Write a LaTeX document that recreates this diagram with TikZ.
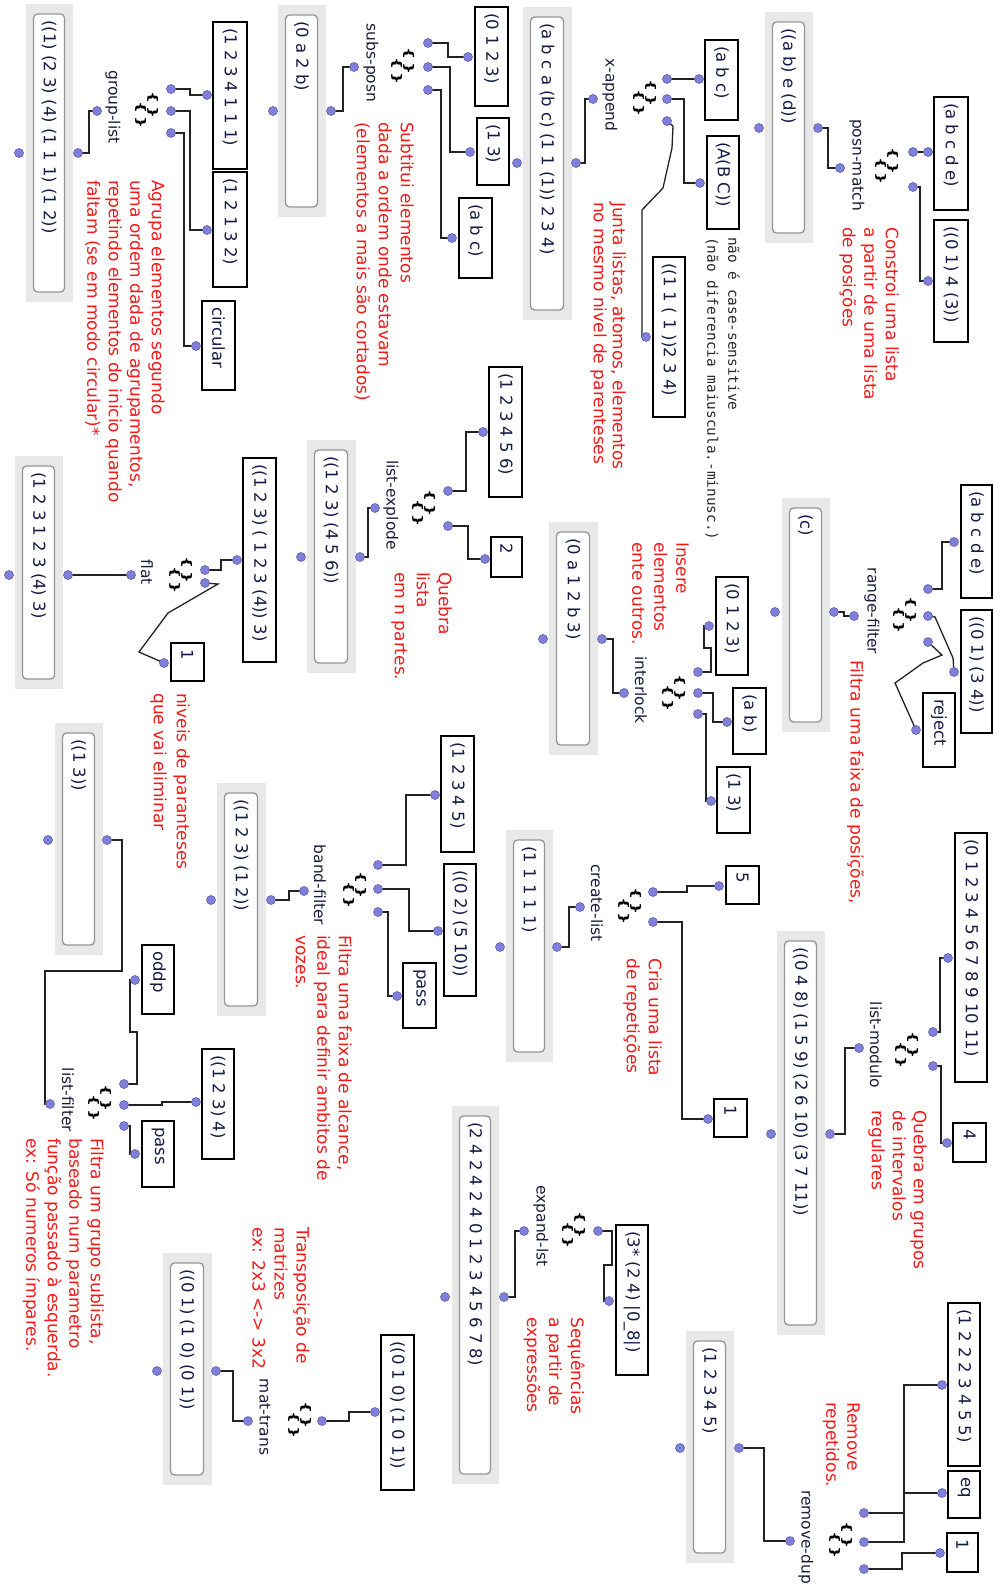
\documentclass[tikz,border=0pt]{standalone}
\usepackage{fontspec}
\usepackage{graphicx}
\setmainfont{DejaVu Sans}
\newfontfamily\monof{DejaVu Sans Mono}
\definecolor{dotc}{RGB}{128,128,218}
\definecolor{dotd}{RGB}{95,95,175}
\definecolor{resgray}{RGB}{232,232,232}
\definecolor{resborder}{RGB}{150,150,150}
\definecolor{btc}{RGB}{20,28,70}
\definecolor{lblc}{RGB}{25,30,60}
\definecolor{redc}{RGB}{245,25,25}
\definecolor{wirec}{RGB}{35,35,35}
\definecolor{monoc}{RGB}{40,40,40}
\tikzset{
  inb/.style={draw=black, line width=1.4pt, fill=white, inner sep=0pt, rectangle},
  resout/.style={fill=resgray, draw=none, inner sep=0pt, rectangle},
  resin/.style={draw=resborder, line width=1.3pt, fill=white, rounded corners=4pt, inner sep=0pt, rectangle},
  btxt/.style={rotate=-90, anchor=west, inner sep=0pt, text=btc, font=\fontsize{16.5}{19}\selectfont},
  lbl/.style={rotate=-90, inner sep=0pt, text=lblc, font=\fontsize{15.5}{18}\selectfont},
  note/.style={rotate=-90, anchor=north west, inner sep=0pt, align=left, text=redc, font=\fontsize{17}{21.5}\selectfont},
  monotxt/.style={rotate=-90, anchor=north west, inner sep=0pt, align=left, text=monoc, font=\monof\fontsize{14.4}{21}\selectfont},
  dot/.style={circle, fill=dotc, draw=dotd, line width=0.6pt, inner sep=0pt, minimum size=9pt},
  wire/.style={draw=wirec, line width=1.3pt},
  icn/.style={rotate=-90, inner sep=0pt, font=\bfseries\fontsize{17}{17}\selectfont},
}
\newcommand\inbox[6]{%
  \node[inb, minimum width={#4-#2}, minimum height={#5-#3}] (#1) at ({(#2+#4)/2},{(#3+#5)/2}) {};
  \node[btxt] (#1t) at ({(#2+#4)/2},{#3+6}) {#6};}
\newcommand\resbox[6]{%
  \node[resout, minimum width={#4-#2}, minimum height={#5-#3}] (#1) at ({(#2+#4)/2},{(#3+#5)/2}) {};
  \node[resin, minimum width={#4-#2-16}, minimum height={#5-#3-20}] (#1in) at ({(#2+#4)/2-0.5},{(#3+#5)/2}) {};
  \node[btxt] (#1t) at ({(#2+#4)/2-0.5},{#3+16}) {#6};}
\newcommand\fnicon[3]{%
  \node[icn] (#1) at ({#2+6},{#3-5}) {\scalebox{1}[0.7]{\{\,\}}};
  \node[icn] (#1b) at ({#2-6},{#3+5}) {\scalebox{1}[0.7]{\{\,\}}};}
\newcommand\dc[3]{\coordinate (#1) at (#2,#3);}
\begin{document}
\begin{tikzpicture}[x=1pt,y=-1pt]
\fill[white] (0,0) rectangle (993,1592);
\useasboundingbox (0,0) rectangle (993,1592);

% ---------- 1 posn-match
\inbox{i1a}{934}{97}{968}{210}{(a b c d e)}
\inbox{i1b}{934}{220}{968}{342}{((0 1) 4 (3))}
\fnicon{fn1}{887}{166}
\node[lbl] (lb1) at (857,165) {posn-match};
\resbox{rs1}{765}{12}{813}{243}{((a b) e (d))}
\node[note] (nt1) at (899,227) {Constroi uma lista\\a partir de uma lista\\de posições};
\dc{i1ao}{928}{152}\dc{i1bo}{928}{281}\dc{fn1i1}{913}{152}\dc{fn1i2}{913}{187}\dc{fn1o}{840}{168}\dc{rs1i}{818}{128}\dc{rs1o}{759}{128}
\draw[wire] (fn1i1) -- (i1ao);
\draw[wire] (fn1i2) -- ++(7,0) |- (i1bo);
\draw[wire] (fn1o) -- ++(-12,0) |- (rs1i);

% ---------- 2 x-append
\inbox{i2a}{705}{40}{738}{120}{(a b c)}
\inbox{i2b}{707}{136}{739}{229}{(A(B C))}
\inbox{i2c}{653}{257}{685}{417}{((1 1 ( 1 ))2 3 4)}
\fnicon{fn2}{645}{98}
\node[lbl] (lb2) at (610,95) {x-append};
\resbox{rs2}{523}{7}{572}{320}{(a b c a (b c) (1 1 (1)) 2 3 4)}
\node[note, font=\fontsize{17}{19}\selectfont] (nt2) at (626,202) {Junta listas, atomos, elementos\\no mesmo nivel de parenteses};
\node[monotxt] (nt2b) at (740,237) {não é case-sensitive\\(não diferencia maiuscula.-minusc.)};
\dc{i2ao}{699}{79}\dc{i2bo}{700}{183}\dc{i2co}{646}{337}\dc{fn2i1}{667}{79}\dc{fn2i2}{667}{99}\dc{fn2i3}{667}{121}\dc{fn2o}{593}{99}\dc{rs2i}{576}{163}\dc{rs2o}{517}{163}
\draw[wire] (fn2i1) -- (i2ao);
\draw[wire] (fn2i2) -- ++(17,0) |- (i2bo);
\draw[wire] (fn2i3) -- (673,126) -- (672,148) -- (663,188) -- (642,210) -- (642,337) -- (i2co);
\draw[wire] (fn2o) -- ++(-8,0) |- (rs2i);

% ---------- 3 subs-posn
\inbox{i3a}{475}{7}{508}{106}{(0 1 2 3)}
\inbox{i3b}{477}{118}{509}{185}{(1 3)}
\inbox{i3c}{459}{198}{492}{278}{(a b c)}
\fnicon{fn3}{403}{66}
\node[lbl] (lb3) at (371,63) {subs-posn};
\resbox{rs3}{278}{5}{326}{217}{(0 a 2 b)}
\node[note, font=\fontsize{17}{22}\selectfont] (nt3) at (414,122) {Subtitui elementos\\dada a ordem onde estavam\\(elementos a mais são cortados)};
\dc{i3ao}{468}{57}\dc{i3bo}{470}{152}\dc{i3co}{452}{238}\dc{fn3i1}{428}{43}\dc{fn3i2}{428}{67}\dc{fn3i3}{428}{90}\dc{fn3o}{354}{67}\dc{rs3i}{331}{111}\dc{rs3o}{273}{111}
\draw[wire] (fn3i1) -- ++(20,0) |- (i3ao);
\draw[wire] (fn3i2) -- ++(22,0) |- (i3bo);
\draw[wire] (fn3i3) -- ++(13,0) |- (i3co);
\draw[wire] (fn3o) -- ++(-11,0) |- (rs3i);

% ---------- 4 group-list
\inbox{i4a}{213}{22}{247}{169}{(1 2 3 4 1 1 1)}
\inbox{i4b}{213}{172}{247}{287}{(1 2 1 3 2)}
\inbox{i4c}{202}{301}{235}{390}{circular}
\fnicon{fn4}{147}{110}
\node[lbl] (lb4) at (113,107) {group-list};
\resbox{rs4}{26}{4}{73}{302}{((1) (2 3) (4) (1 1 1) (1 2))}
\node[note] (nt4) at (165,180) {Agrupa elementos segundo\\uma ordem dada de agrupamentos,\\repetindo elementos do inicio quando\\faltam (se em modo circular)*};
\dc{i4ao}{207}{95}\dc{i4bo}{207}{230}\dc{i4co}{196}{346}\dc{fn4i1}{171}{89}\dc{fn4i2}{171}{111}\dc{fn4i3}{171}{133}\dc{fn4o}{97}{111}\dc{rs4i}{78}{153}\dc{rs4o}{19}{153}
\draw[wire] (fn4i1) -- ++(19,0) |- (i4ao);
\draw[wire] (fn4i2) -- ++(19,0) |- (i4bo);
\draw[wire] (fn4i3) -- ++(13,0) |- (i4co);
\draw[wire] (fn4o) -- ++(-8,0) |- (rs4i);

% ---------- 5 list-explode
\inbox{i5a}{489}{367}{522}{497}{(1 2 3 4 5 6)}
\inbox{i5b}{491}{537}{522}{577}{2}
\fnicon{fn5}{424}{508}
\node[lbl] (lb5) at (391,505) {list-explode};
\resbox{rs5}{307}{440}{356}{673}{((1 2 3) (4 5 6))}
\node[note, font=\fontsize{17}{22}\selectfont] (nt5) at (452,572) {Quebra\\lista\\em n partes.};
\dc{i5ao}{483}{432}\dc{i5bo}{485}{559}\dc{fn5i1}{448}{491}\dc{fn5i2}{448}{526}\dc{fn5o}{375}{508}\dc{rs5i}{360}{557}\dc{rs5o}{301}{557}
\draw[wire] (fn5i1) -- ++(18,0) |- (i5ao);
\draw[wire] (fn5i2) -- ++(20,0) |- (i5bo);
\draw[wire] (fn5o) -- ++(-7,0) |- (rs5i);

% ---------- 6 flat
\inbox{i6a}{243}{458}{276}{662}{((1 2 3) ( 1 2 3 (4)) 3)}
\inbox{i6b}{171}{643}{204}{681}{1}
\fnicon{fn6}{181}{575}
\node[lbl] (lb6) at (147,572) {flat};
\resbox{rs6}{15}{456}{63}{689}{(1 2 3 1 2 3 (4) 3)}
\node[note, font=\fontsize{17}{23}\selectfont] (nt6) at (190,693) {niveis de paranteses\\que vai eliminar};
\dc{i6ao}{237}{560}\dc{i6bo}{164}{663}\dc{fn6i1}{205}{570}\dc{fn6i2}{205}{583}\dc{fn6o}{131}{575}\dc{rs6i}{68}{575}\dc{rs6o}{9}{575}
\draw[wire] (fn6i1) -- ++(16,0) |- (i6ao);
\draw[wire] (fn6i2) -- (218,584) -- (168,613) -- (139,652) -- (i6bo);
\draw[wire] (fn6o) -- (rs6i);

% ---------- 7 range-filter
\inbox{i7a}{961}{485}{992}{598}{(a b c d e)}
\inbox{i7b}{961}{610}{992}{733}{((0 1) (3 4))}
\inbox{i7c}{923}{693}{955}{767}{reject}
\fnicon{fn7}{905}{615}
\node[lbl] (lb7) at (872,611) {range-filter};
\resbox{rs7}{782}{498}{830}{732}{(c)}
\node[note] (nt7) at (864,660) {Filtra uma faixa de posições,};
\dc{i7ao}{954}{542}\dc{i7bo}{954}{672}\dc{i7co}{916}{730}\dc{fn7i1}{928}{589}\dc{fn7i2}{928}{616}\dc{fn7i3}{928}{642}\dc{fn7o}{854}{616}\dc{rs7i}{834}{612}\dc{rs7o}{775}{612}
\draw[wire] (fn7i1) -- ++(14,0) |- (i7ao);
\draw[wire] (fn7i2) -- (935,617) -- (953,658) -- (i7bo);
\draw[wire] (fn7i3) -- (942,655) -- (923,663) -- (895,683) -- (i7co);
\draw[wire] (fn7o) -- ++(-10,0) |- (rs7i);

% ---------- 8 interlock
\inbox{i8a}{716}{577}{748}{675}{(0 1 2 3)}
\inbox{i8b}{733}{688}{766}{754}{(a b)}
\inbox{i8c}{717}{767}{750}{833}{(1 3)}
\fnicon{fn8}{674}{693}
\node[lbl] (lb8) at (641,690) {interlock};
\resbox{rs8}{549}{522}{598}{755}{(0 a 1 2 b 3)}
\node[note, font=\fontsize{17}{22}\selectfont] (nt8) at (689,542) {Insere\\elementos\\ente outros.};
\dc{i8ao}{709}{626}\dc{i8bo}{727}{722}\dc{i8co}{711}{801}\dc{fn8i1}{698}{672}\dc{fn8i2}{698}{693}\dc{fn8i3}{698}{714}\dc{fn8o}{624}{693}\dc{rs8i}{602}{639}\dc{rs8o}{543}{639}
\draw[wire] (fn8i1) -- (711,672) -- (711,648) -- (704,648) -- (704,626) -- (i8ao);
\draw[wire] (fn8i2) -- ++(15,0) |- (i8bo);
\draw[wire] (fn8i3) -- ++(8,0) |- (i8co);
\draw[wire] (fn8o) -- ++(-11,0) |- (rs8i);

% ---------- 9 band-filter
\inbox{i9a}{441}{736}{474}{852}{(1 2 3 4 5)}
\inbox{i9b}{444}{864}{476}{996}{((0 2) (5 10))}
\inbox{i9c}{403}{963}{436}{1028}{pass}
\fnicon{fn9}{355}{890}
\node[lbl] (lb9) at (320,885) {band-filter};
\resbox{rs9}{217}{783}{266}{1016}{((1 2 3) (1 2))}
\node[note] (nt9) at (352,935) {Filtra uma faixa de alcance,\\ideal para definir ambitos de\\vozes.};
\dc{i9ao}{435}{795}\dc{i9bo}{438}{931}\dc{i9co}{397}{996}\dc{fn9i1}{378}{865}\dc{fn9i2}{378}{889}\dc{fn9i3}{378}{912}\dc{fn9o}{304}{891}\dc{rs9i}{271}{900}\dc{rs9o}{211}{900}
\draw[wire] (fn9i1) -- ++(28,0) |- (i9ao);
\draw[wire] (fn9i2) -- ++(31,0) |- (i9bo);
\draw[wire] (fn9i3) -- ++(10,0) |- (i9co);
\draw[wire] (fn9o) -- ++(-15,0) |- (rs9i);

% ---------- 10 create-list
\inbox{i10a}{726}{866}{759}{904}{5}
\inbox{i10b}{714}{1099}{747}{1137}{1}
\fnicon{fn10}{630}{906}
\node[lbl] (lb10) at (597,903) {create-list};
\resbox{rs10}{506}{830}{553}{1062}{(1 1 1 1 1)}
\node[note, font=\fontsize{17}{22}\selectfont] (nt10) at (662,958) {Cria uma lista\\de repetições};
\dc{i10ao}{719}{886}\dc{i10bo}{708}{1119}\dc{fn10i1}{653}{892}\dc{fn10i2}{653}{922}\dc{fn10o}{580}{907}\dc{rs10i}{557}{947}\dc{rs10o}{500}{947}
\draw[wire] (fn10i1) -- ++(34,0) |- (i10ao);
\draw[wire] (fn10i2) -- ++(29,0) |- (i10bo);
\draw[wire] (fn10o) -- ++(-11,0) |- (rs10i);

% ---------- 11 list-modulo
\inbox{i11a}{955}{833}{987}{1082}{(0 1 2 3 4 5 6 7 8 9 10 11)}
\inbox{i11b}{953}{1123}{986}{1162}{4}
\fnicon{fn11}{907}{1050}
\node[lbl] (lb11) at (876,1045) {list-modulo};
\resbox{rs11}{777}{931}{825}{1335}{((0 4 8) (1 5 9) (2 6 10) (3 7 11))}
\node[note, font=\fontsize{17}{21}\selectfont] (nt11) at (927,1110) {Quebra em grupos\\de intervalos\\regulares};
\dc{i11ao}{948}{958}\dc{i11bo}{947}{1143}\dc{fn11i1}{933}{1032}\dc{fn11i2}{933}{1066}\dc{fn11o}{859}{1048}\dc{rs11i}{830}{1134}\dc{rs11o}{771}{1134}
\draw[wire] (fn11i1) -- ++(7,0) |- (i11ao);
\draw[wire] (fn11i2) -- ++(8,0) |- (i11bo);
\draw[wire] (fn11o) -- ++(-14,0) |- (rs11i);

% ---------- 12 list-filter
\inbox{i12a}{142}{945}{174}{1014}{oddp}
\inbox{i12b}{202}{1049}{234}{1159}{((1 2 3) 4)}
\inbox{i12c}{142}{1121}{174}{1187}{pass}
\fnicon{fn12}{100}{1103}
\node[lbl] (lb12) at (68,1100) {list-filter};
\resbox{rs12}{55}{723}{103}{955}{((1 3))}
\node[note] (nt12) at (104,1138) {Filtra um grupo sublista,\\baseado num parametro\\função passado à esquerda.\\ex: Só numeros ímpares.};
\dc{i12ao}{135}{980}\dc{i12bo}{196}{1102}\dc{i12co}{135}{1154}\dc{fn12i1}{124}{1084}\dc{fn12i2}{124}{1105}\dc{fn12i3}{124}{1126}\dc{fn12o}{50}{1104}\dc{rs12i}{107}{840}\dc{rs12o}{48}{840}
\draw[wire] (fn12i1) -- (137,1084) -- (137,1032) -- (130,1032) -- (130,980) -- (i12ao);
\draw[wire] (fn12i2) -- ++(38,0) |- (i12bo);
\draw[wire] (fn12i3) -- ++(6,0) |- (i12co);
\draw[wire] (fn12o) -- (45,1104) -- (45,971) -- (122,971) -- (122,840) -- (rs12i);

% ---------- 13 expand-lst
\inbox{i13a}{616}{1225}{648}{1375}{(3* (2 4) |0\_8|)}
\fnicon{fn13}{574}{1230}
\node[lbl] (lb13) at (541,1226) {expand-lst};
\resbox{rs13}{452}{1106}{499}{1484}{(2 4 2 4 2 4 0 1 2 3 4 5 6 7 8)}
\node[note, font=\fontsize{17}{22}\selectfont] (nt13) at (585,1317) {Sequências\\a partir de\\expressões};
\dc{i13ao}{609}{1301}\dc{fn13i1}{598}{1231}\dc{fn13o}{524}{1231}\dc{rs13i}{504}{1297}\dc{rs13o}{445}{1297}
\draw[wire] (fn13i1) -- (612,1231) -- (612,1265) -- (604,1265) -- (604,1301) -- (i13ao);
\draw[wire] (fn13o) -- ++(-9,0) |- (rs13i);

% ---------- 14 remove-dup
\inbox{i14a}{948}{1303}{980}{1466}{(1 2 2 2 3 4 5 5)}
\inbox{i14b}{948}{1471}{980}{1518}{eq}
\inbox{i14c}{947}{1533}{978}{1572}{1}
\fnicon{fn14}{841}{1540}
\node[lbl] (lb14) at (806,1537) {remove-dup};
\resbox{rs14}{686}{1331}{734}{1563}{(1 2 3 4 5)}
\node[note, font=\fontsize{17}{21}\selectfont] (nt14) at (860,1402) {Remove\\repetidos.};
\dc{i14ao}{942}{1385}\dc{i14bo}{942}{1493}\dc{i14co}{940}{1553}\dc{fn14i1}{864}{1513}\dc{fn14i2}{864}{1542}\dc{fn14i3}{864}{1569}\dc{fn14o}{790}{1541}\dc{rs14i}{739}{1448}\dc{rs14o}{680}{1448}
\draw[wire] (fn14i1) -- ++(40,0) |- (i14ao);
\draw[wire] (fn14i2) -- ++(40,0) |- (i14bo);
\draw[wire] (fn14i3) -- ++(38,0) |- (i14co);
\draw[wire] (fn14o) -- ++(-26,0) |- (rs14i);

% ---------- 15 mat-trans
\inbox{i15a}{381}{1335}{414}{1490}{((0 1 0) (1 0 1))}
\fnicon{fn15}{300}{1420}
\node[lbl] (lb15) at (265,1417) {mat-trans};
\resbox{rs15}{163}{1253}{212}{1485}{((0 1) (1 0) (0 1))}
\node[note, font=\fontsize{17}{22}\selectfont] (nt15) at (310,1227) {Transposição de\\matrizes\\ex: 2x3 <-> 3x2};
\dc{i15ao}{375}{1412}\dc{fn15i1}{322}{1421}\dc{fn15o}{248}{1421}\dc{rs15i}{216}{1371}\dc{rs15o}{157}{1371}
\draw[wire] (fn15i1) -- ++(27,0) |- (i15ao);
\draw[wire] (fn15o) -- ++(-15,0) |- (rs15i);

% ---------- dots on top
\foreach \n in {i1ao,i1bo,fn1i1,fn1i2,fn1o,rs1i,rs1o,
  i2ao,i2bo,i2co,fn2i1,fn2i2,fn2i3,fn2o,rs2i,rs2o,
  i3ao,i3bo,i3co,fn3i1,fn3i2,fn3i3,fn3o,rs3i,rs3o,
  i4ao,i4bo,i4co,fn4i1,fn4i2,fn4i3,fn4o,rs4i,rs4o,
  i5ao,i5bo,fn5i1,fn5i2,fn5o,rs5i,rs5o,
  i6ao,i6bo,fn6i1,fn6i2,fn6o,rs6i,rs6o,
  i7ao,i7bo,i7co,fn7i1,fn7i2,fn7i3,fn7o,rs7i,rs7o,
  i8ao,i8bo,i8co,fn8i1,fn8i2,fn8i3,fn8o,rs8i,rs8o,
  i9ao,i9bo,i9co,fn9i1,fn9i2,fn9i3,fn9o,rs9i,rs9o,
  i10ao,i10bo,fn10i1,fn10i2,fn10o,rs10i,rs10o,
  i11ao,i11bo,fn11i1,fn11i2,fn11o,rs11i,rs11o,
  i12ao,i12bo,i12co,fn12i1,fn12i2,fn12i3,fn12o,rs12i,rs12o,
  i13ao,fn13i1,fn13o,rs13i,rs13o,
  i14ao,i14bo,i14co,fn14i1,fn14i2,fn14i3,fn14o,rs14i,rs14o,
  i15ao,fn15i1,fn15o,rs15i,rs15o}
  \node[dot] (\n-d) at (\n) {};
\end{tikzpicture}
\end{document}
